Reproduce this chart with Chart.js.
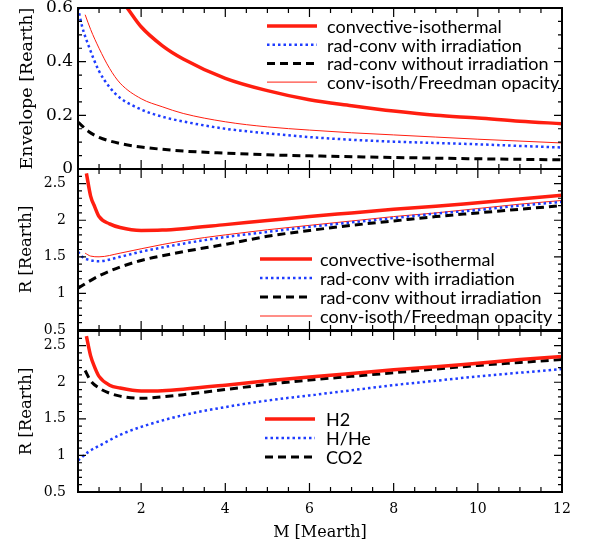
<!DOCTYPE html>
<html>
<head>
<meta charset="utf-8">
<script src="https://cdn.jsdelivr.net/npm/chart.js@4"></script>
<style>
html, body { margin: 0; padding: 0; background: #fff; }
#wrap { position: relative; width: 592px; height: 548px; }
#wrap canvas { position: absolute; left: 0; top: 0; }
</style>
</head>
<body>
<div id="wrap">
  <canvas id="env" width="592" height="548"></canvas>
  <canvas id="rad" width="592" height="548"></canvas>
  <canvas id="comp" width="592" height="548"></canvas>
</div>
<script>
// ---- data (M in Mearth, values in Rearth) ----
const xTickLabels = [2, 4, 6, 8, 10, 12];
const envTicks = [0, 0.2, 0.4, 0.6];
const radTicks = [0.5, 1, 1.5, 2, 2.5];

// panel 1: envelope thickness
const envIsoM = [1.67, 2, 2.5, 3, 4, 5, 6, 7, 8, 9, 10, 11, 12];
const envIsoR = [0.60, 0.53, 0.46, 0.41, 0.338, 0.292, 0.258, 0.236, 0.216, 0.20, 0.19, 0.178, 0.169];
const envIrrM = [0.5, 0.6, 0.75, 1, 1.25, 1.5, 2, 2.5, 3, 4, 5, 6, 7, 8, 9, 10, 11, 12];
const envIrrR = [0.60, 0.53, 0.46, 0.365, 0.305, 0.265, 0.222, 0.195, 0.177, 0.15, 0.133, 0.119, 0.109, 0.102, 0.097, 0.092, 0.086, 0.080];
const envDryM = [0.5, 0.75, 1, 1.5, 2, 3, 4, 5, 6, 8, 10, 12];
const envDryR = [0.175, 0.14, 0.118, 0.095, 0.082, 0.067, 0.059, 0.053, 0.049, 0.043, 0.038, 0.034];
const envFreedM = [0.67, 0.8, 1, 1.25, 1.5, 2, 2.5, 3, 4, 5, 6, 7, 8, 9, 10, 11, 12];
const envFreedR = [0.575, 0.52, 0.45, 0.375, 0.32, 0.262, 0.232, 0.207, 0.176, 0.157, 0.145, 0.135, 0.127, 0.119, 0.111, 0.104, 0.097];

// panel 2: radius, atmosphere models
const radIsoM = [0.7, 0.8, 0.9, 1, 1.25, 1.5, 2, 2.5, 3, 4, 5, 6, 7, 8, 9, 10, 11, 12];
const radIsoR = [2.64, 2.33, 2.18, 2.05, 1.95, 1.9, 1.86, 1.865, 1.885, 1.94, 1.995, 2.05, 2.1, 2.15, 2.19, 2.24, 2.29, 2.34];
const radIrrM = [0.5, 0.6, 0.75, 1, 1.5, 2, 3, 4, 5, 6, 7, 8, 9, 10, 11, 12];
const radIrrR = [1.57, 1.5, 1.46, 1.44, 1.5, 1.57, 1.68, 1.77, 1.84, 1.91, 1.97, 2.03, 2.09, 2.14, 2.2, 2.25];
const radDryM = [0.5, 0.75, 1, 1.5, 2, 3, 4, 5, 6, 7, 8, 9, 10, 11, 12];
const radDryR = [1.07, 1.16, 1.24, 1.36, 1.45, 1.57, 1.67, 1.78, 1.86, 1.93, 1.99, 2.05, 2.1, 2.15, 2.2];
const radFreedM = [0.67, 0.8, 1, 1.5, 2, 3, 4, 5, 6, 7, 8, 9, 10, 11, 12];
const radFreedR = [1.55, 1.51, 1.5, 1.55, 1.61, 1.72, 1.8, 1.87, 1.93, 1.99, 2.05, 2.1, 2.16, 2.22, 2.27];

// panel 3: radius, composition
const compH2M = [0.7, 0.8, 0.9, 1, 1.25, 1.5, 2, 2.5, 3, 4, 5, 6, 7, 8, 9, 10, 11, 12];
const compH2R = [2.63, 2.36, 2.2, 2.08, 1.96, 1.92, 1.88, 1.885, 1.905, 1.96, 2.02, 2.07, 2.12, 2.17, 2.21, 2.26, 2.31, 2.35];
const compHHeM = [0.5, 0.75, 1, 1.5, 2, 3, 4, 5, 6, 7, 8, 9, 10, 11, 12];
const compHHeR = [0.93, 1.05, 1.13, 1.28, 1.39, 1.55, 1.66, 1.75, 1.82, 1.89, 1.96, 2.02, 2.08, 2.13, 2.18];
const compCO2M = [0.67, 0.8, 1, 1.25, 1.5, 2, 2.5, 3, 4, 5, 6, 7, 8, 9, 10, 11, 12];
const compCO2R = [2.16, 2.02, 1.92, 1.85, 1.81, 1.78, 1.8, 1.83, 1.9, 1.97, 2.03, 2.08, 2.13, 2.18, 2.23, 2.27, 2.31];

const RED = '#ff1e10', BLUE = '#1e3cff', BLACK = '#000';
const pts = (ms, rs) => ms.map((m, i) => ({ x: m, y: rs[i] }));

const thick = (label, ms, rs) => ({ label, data: pts(ms, rs), borderColor: RED, borderWidth: 3.5 });
const dotted = (label, ms, rs) => ({ label, data: pts(ms, rs), borderColor: BLUE, borderWidth: 2.5, borderDash: [2.5, 3] });
const dashed = (label, ms, rs) => ({ label, data: pts(ms, rs), borderColor: BLACK, borderWidth: 3, borderDash: [8, 5] });
const thin = (label, ms, rs) => ({ label, data: pts(ms, rs), borderColor: RED, borderWidth: 1 });

// inward ticks on all four sides + frame
const frameTicks = {
    id: 'frameTicks',
    afterDatasetsDraw(chart, args, o) {
        const { ctx, chartArea: a, scales: { x, y } } = chart;
        ctx.save();
        ctx.strokeStyle = '#000';
        ctx.lineWidth = 1.2;
        ctx.beginPath();
        for (let k = 0; k <= 23; k++) {
            const m = 0.5 + k * 0.5;
            const px = x.getPixelForValue(m);
            const len = m % 2 === 0 ? 9 : 5;
            ctx.moveTo(px, a.bottom); ctx.lineTo(px, a.bottom - len);
            ctx.moveTo(px, a.top); ctx.lineTo(px, a.top + len);
        }
        const n = Math.round((y.max - y.min) / o.minor);
        for (let k = 0; k <= n; k++) {
            const v = y.min + k * o.minor;
            const r = v / o.major;
            const len = Math.abs(r - Math.round(r)) < 1e-6 ? 8 : 4;
            const py = y.getPixelForValue(v);
            ctx.moveTo(a.left, py); ctx.lineTo(a.left + len, py);
            ctx.moveTo(a.right, py); ctx.lineTo(a.right - len, py);
        }
        ctx.stroke();
        ctx.lineWidth = 2;
        ctx.strokeRect(a.left, a.top, a.width, a.height);
        ctx.restore();
    }
};

// legend drawn inside the panel
const panelLegend = {
    id: 'panelLegend',
    afterDraw(chart, args, o) {
        const ctx = chart.ctx;
        chart.data.datasets.forEach((ds, i) => {
            const y = o.y + i * o.rowH;
            ctx.save();
            ctx.strokeStyle = ds.borderColor;
            ctx.lineWidth = ds.borderWidth;
            ctx.setLineDash(ds.borderDash || []);
            ctx.beginPath();
            ctx.moveTo(o.x, y);
            ctx.lineTo(o.x + o.len, y);
            ctx.stroke();
            ctx.setLineDash([]);
            ctx.fillStyle = '#000';
            ctx.font = o.font;
            ctx.textBaseline = 'middle';
            ctx.fillText(ds.label, o.textX, y + 1);
            ctx.restore();
        });
    }
};

const noPad = s => { s.paddingTop = 0; s.paddingBottom = 0; s.paddingLeft = 0; s.paddingRight = 0; };

function makePanel(id, cfg) {
    new Chart(document.getElementById(id), {
        type: 'line',
        data: { datasets: cfg.datasets },
        options: {
            responsive: false,
            animation: false,
            layout: { padding: { top: cfg.top, bottom: cfg.bottom, left: 0, right: 30 } },
            elements: { point: { radius: 0 }, line: { cubicInterpolationMode: 'monotone', fill: false, borderCapStyle: 'butt' } },
            plugins: {
                legend: { display: false },
                tooltip: { enabled: false },
                frameTicks: { minor: cfg.minor, major: cfg.major },
                panelLegend: cfg.legend
            },
            scales: {
                x: {
                    type: 'linear', min: 0.5, max: 12,
                    grid: { display: false, drawTicks: false },
                    border: { display: false },
                    afterBuildTicks: s => { s.ticks = xTickLabels.map(v => ({ value: v })); },
                    afterFit: s => { s.height = cfg.xHeight; noPad(s); },
                    ticks: { display: cfg.xLabels, padding: 9, color: '#000', font: { family: 'DejaVu Serif', size: 14 }, maxRotation: 0, autoSkip: false, callback: v => String(v) },
                    title: { display: cfg.xLabels, text: 'M [Mearth]', color: '#000', font: { family: 'DejaVu Serif', size: 16, lineHeight: 1.2 }, padding: { top: 0, bottom: 5.5 } }
                },
                y: {
                    type: 'linear', min: cfg.yMin, max: cfg.yMax,
                    grid: { display: false, drawTicks: false },
                    border: { display: false },
                    afterBuildTicks: s => { s.ticks = cfg.yTicks.map(v => ({ value: v })); },
                    afterFit: s => { s.width = 78; noPad(s); },
                    ticks: { padding: cfg.tickPad, color: '#000', font: { family: 'DejaVu Serif', size: cfg.tickSize }, autoSkip: false, callback: v => String(v) },
                    title: { display: true, text: cfg.yTitle, color: '#000', font: { family: 'DejaVu Serif', size: cfg.titleSize, lineHeight: 1.2 }, padding: { top: cfg.titlePad, bottom: 0 } }
                }
            }
        },
        plugins: [frameTicks, panelLegend]
    });
}

makePanel('env', {
    top: 8, bottom: 379, xHeight: 0, xLabels: false,
    yMin: 0, yMax: 0.6, yTicks: envTicks, minor: 0.05, major: 0.2,
    tickSize: 17, tickPad: 5, titleSize: 17.5, titlePad: 16.5, yTitle: 'Envelope [Rearth]',
    legend: { x: 267, len: 50, textX: 327, y: 26, rowH: 18.7, font: '18px Lato' },
    datasets: [
        thick('convective-isothermal', envIsoM, envIsoR),
        dotted('rad-conv with irradiation', envIrrM, envIrrR),
        dashed('rad-conv without irradiation', envDryM, envDryR),
        thin('conv-isoth/Freedman opacity', envFreedM, envFreedR)
    ]
});

makePanel('rad', {
    top: 169, bottom: 218, xHeight: 0, xLabels: false,
    yMin: 0.5, yMax: 2.7, yTicks: radTicks, minor: 0.1, major: 0.5,
    tickSize: 14, tickPad: 12, titleSize: 16.5, titlePad: 17, yTitle: 'R [Rearth]',
    legend: { x: 260, len: 52, textX: 320, y: 259, rowH: 19, font: '18px Lato' },
    datasets: [
        thick('convective-isothermal', radIsoM, radIsoR),
        dotted('rad-conv with irradiation', radIrrM, radIrrR),
        dashed('rad-conv without irradiation', radDryM, radDryR),
        thin('conv-isoth/Freedman opacity', radFreedM, radFreedR)
    ]
});

makePanel('comp', {
    top: 331, bottom: 0, xHeight: 56, xLabels: true,
    yMin: 0.5, yMax: 2.7, yTicks: radTicks, minor: 0.1, major: 0.5,
    tickSize: 14, tickPad: 12, titleSize: 16.5, titlePad: 17, yTitle: 'R [Rearth]',
    legend: { x: 265, len: 50, textX: 326, y: 419, rowH: 19, font: '18px Lato' },
    datasets: [
        thick('H2', compH2M, compH2R),
        dotted('H/He', compHHeM, compHHeR),
        dashed('CO2', compCO2M, compCO2R)
    ]
});
</script>
</body>
</html>
